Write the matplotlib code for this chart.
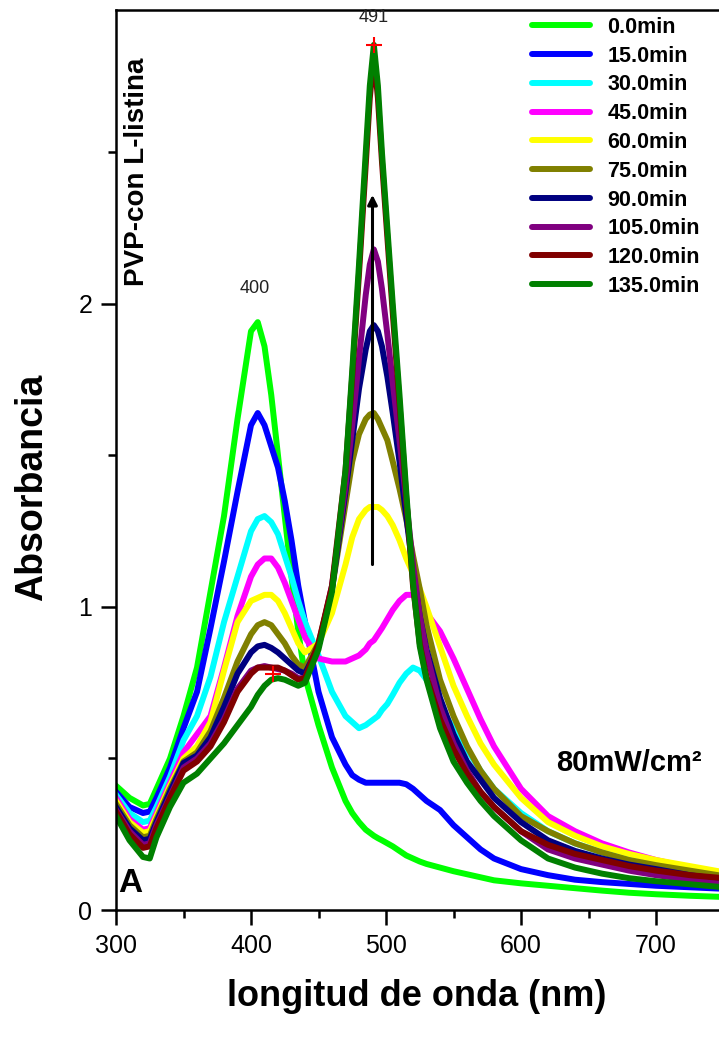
import matplotlib
matplotlib.use('Agg')
import matplotlib.pyplot as plt
from matplotlib.ticker import MultipleLocator

# Wavelength grid (nm) shared by every spectrum
wavelength = [300, 310, 320, 325, 330, 340, 350, 360, 370, 380, 390, 400, 405, 410, 415,
              420, 425, 430, 435, 440, 450, 460, 470, 475, 480, 485, 488, 491, 494, 497,
              501, 505, 510, 515, 520, 525, 530, 540, 550, 560, 570, 580, 600, 620, 640,
              660, 680, 700, 725, 750]

# Absorbance spectra, one list per irradiation time
abs_0 = [0.41, 0.37, 0.345, 0.35, 0.40, 0.50, 0.64, 0.80, 1.05, 1.30, 1.62, 1.91, 1.94, 1.86, 1.70,
         1.50, 1.30, 1.10, 0.92, 0.77, 0.61, 0.47, 0.36, 0.32, 0.29, 0.265, 0.255, 0.245, 0.237, 0.23,
         0.22, 0.21, 0.195, 0.18, 0.17, 0.16, 0.152, 0.14, 0.128, 0.118, 0.108, 0.098, 0.088, 0.080, 0.072,
         0.064, 0.057, 0.052, 0.047, 0.043]
abs_15 = [0.39, 0.34, 0.32, 0.325, 0.37, 0.47, 0.60, 0.72, 0.93, 1.15, 1.38, 1.60, 1.64, 1.60, 1.53,
          1.46, 1.35, 1.22, 1.07, 0.95, 0.72, 0.57, 0.48, 0.445, 0.43, 0.42, 0.42, 0.42, 0.42, 0.42,
          0.42, 0.42, 0.42, 0.415, 0.40, 0.38, 0.36, 0.33, 0.28, 0.24, 0.20, 0.17, 0.135, 0.115, 0.10,
          0.092, 0.086, 0.080, 0.075, 0.070]
abs_30 = [0.38, 0.32, 0.29, 0.295, 0.34, 0.44, 0.56, 0.64, 0.77, 0.95, 1.10, 1.25, 1.29, 1.30, 1.28,
          1.24, 1.17, 1.10, 1.02, 0.95, 0.84, 0.72, 0.64, 0.62, 0.60, 0.61, 0.62, 0.63, 0.64, 0.66,
          0.68, 0.71, 0.75, 0.78, 0.80, 0.79, 0.76, 0.67, 0.60, 0.53, 0.46, 0.40, 0.32, 0.26, 0.22,
          0.19, 0.165, 0.145, 0.125, 0.105]
abs_45 = [0.37, 0.30, 0.265, 0.27, 0.32, 0.42, 0.52, 0.58, 0.64, 0.80, 0.97, 1.10, 1.14, 1.16, 1.16,
          1.13, 1.08, 1.02, 0.96, 0.90, 0.83, 0.82, 0.82, 0.83, 0.84, 0.86, 0.88, 0.89, 0.91, 0.93,
          0.96, 0.99, 1.02, 1.04, 1.04, 1.01, 0.98, 0.92, 0.83, 0.73, 0.63, 0.54, 0.40, 0.31, 0.26,
          0.22, 0.19, 0.165, 0.14, 0.12]
abs_60 = [0.36, 0.29, 0.255, 0.26, 0.31, 0.41, 0.50, 0.54, 0.62, 0.79, 0.95, 1.02, 1.03, 1.04, 1.04,
          1.02, 0.98, 0.93, 0.88, 0.85, 0.88, 0.98, 1.14, 1.23, 1.29, 1.32, 1.33, 1.33, 1.33, 1.32,
          1.30, 1.27, 1.22, 1.16, 1.11, 1.06, 1.00, 0.87, 0.74, 0.64, 0.55, 0.48, 0.37, 0.29, 0.245,
          0.21, 0.185, 0.165, 0.145, 0.125]
abs_75 = [0.35, 0.28, 0.24, 0.245, 0.30, 0.40, 0.49, 0.52, 0.59, 0.70, 0.82, 0.91, 0.94, 0.95, 0.94,
          0.91, 0.88, 0.84, 0.81, 0.80, 0.88, 1.06, 1.34, 1.48, 1.57, 1.62, 1.635, 1.64, 1.62, 1.59,
          1.55, 1.48, 1.39, 1.29, 1.17, 1.06, 0.94, 0.76, 0.64, 0.54, 0.46, 0.40, 0.31, 0.26, 0.22,
          0.19, 0.165, 0.148, 0.13, 0.112]
abs_90 = [0.34, 0.27, 0.23, 0.235, 0.29, 0.39, 0.485, 0.51, 0.57, 0.67, 0.78, 0.85, 0.87, 0.875, 0.865,
          0.85, 0.83, 0.81, 0.79, 0.78, 0.87, 1.06, 1.38, 1.55, 1.72, 1.85, 1.91, 1.93, 1.91, 1.86,
          1.76, 1.64, 1.48, 1.30, 1.12, 0.97, 0.86, 0.70, 0.58, 0.49, 0.43, 0.37, 0.29, 0.23, 0.195,
          0.17, 0.15, 0.135, 0.115, 0.10]
abs_105 = [0.33, 0.26, 0.215, 0.22, 0.28, 0.375, 0.47, 0.50, 0.55, 0.63, 0.73, 0.79, 0.80, 0.805, 0.80,
           0.795, 0.79, 0.78, 0.765, 0.765, 0.87, 1.07, 1.40, 1.60, 1.82, 2.03, 2.13, 2.18, 2.14, 2.05,
           1.90, 1.74, 1.55, 1.35, 1.14, 0.97, 0.85, 0.67, 0.55, 0.46, 0.39, 0.34, 0.26, 0.20, 0.17,
           0.15, 0.13, 0.115, 0.10, 0.085]
abs_120 = [0.325, 0.25, 0.205, 0.21, 0.27, 0.37, 0.46, 0.49, 0.54, 0.62, 0.72, 0.78, 0.80, 0.80, 0.80,
           0.80, 0.79, 0.775, 0.76, 0.765, 0.88, 1.07, 1.45, 1.76, 2.10, 2.46, 2.68, 2.82, 2.68, 2.47,
           2.22, 1.97, 1.67, 1.36, 1.07, 0.88, 0.77, 0.63, 0.53, 0.45, 0.39, 0.34, 0.26, 0.215, 0.185,
           0.165, 0.145, 0.13, 0.115, 0.105]
abs_135 = [0.31, 0.23, 0.175, 0.17, 0.24, 0.34, 0.42, 0.45, 0.50, 0.55, 0.61, 0.67, 0.71, 0.74, 0.76,
           0.765, 0.76, 0.75, 0.74, 0.75, 0.86, 1.05, 1.45, 1.78, 2.13, 2.50, 2.72, 2.855, 2.72, 2.50,
           2.25, 2.00, 1.70, 1.38, 1.08, 0.87, 0.76, 0.60, 0.49, 0.42, 0.36, 0.31, 0.23, 0.17, 0.14,
           0.12, 0.105, 0.095, 0.085, 0.075]

spectra = [abs_0, abs_15, abs_30, abs_45, abs_60, abs_75, abs_90, abs_105, abs_120, abs_135]
times = ['0.0min', '15.0min', '30.0min', '45.0min', '60.0min', '75.0min', '90.0min',
         '105.0min', '120.0min', '135.0min']
colors = ['#00FF00', '#0000FF', '#00FFFF', '#FF00FF', '#FFFF00', '#808000', '#000080',
          '#800080', '#800000', '#008000']

# Band maxima marked on the plot
peak_labels = ['400', '491']
peak_label_x = [403, 491]
peak_label_y = [2.05, 2.945]
cross_x = [491, 416]
cross_y = [2.855, 0.78]
arrow_x = 490
arrow_from = 1.14
arrow_to = 2.36

plt.rcParams['font.family'] = ['Liberation Sans', 'DejaVu Sans']

fig = plt.figure(figsize=(7.19, 10.42), dpi=100)
ax = fig.add_axes([116 / 719, 132 / 1042, 607.5 / 719, 900 / 1042])

for y, c, lab in zip(spectra, colors, times):
    ax.plot(wavelength, y, color=c, lw=4.3, label=lab)

# growth arrow on the 491 nm band
ax.annotate('', xy=(arrow_x, arrow_to), xytext=(arrow_x, arrow_from),
            arrowprops=dict(arrowstyle='-|>', color='black', lw=2.2,
                            mutation_scale=14, shrinkA=0, shrinkB=0))

ax.plot(cross_x, cross_y, ls='none', marker='+', color='red', ms=12, mew=1.5)
for t, x, y in zip(peak_labels, peak_label_x, peak_label_y):
    ax.text(x, y, t, ha='center', va='center', fontsize=13, color='#222222')

ax.set_xlim(300, 750)
ax.set_ylim(0, 2.97)
ax.xaxis.set_major_locator(MultipleLocator(100))
ax.xaxis.set_minor_locator(MultipleLocator(50))
ax.yaxis.set_major_locator(MultipleLocator(1))
ax.yaxis.set_minor_locator(MultipleLocator(0.5))
ax.tick_params(which='major', direction='out', length=11, width=1.8, pad=6, labelsize=18)
ax.tick_params(which='minor', direction='out', length=6, width=1.8)
for side in ['left', 'bottom', 'top']:
    ax.spines[side].set_linewidth(1.8)
ax.spines['right'].set_visible(False)

fig.text(32 / 719, 1 - 487 / 1042, 'Absorbancia', rotation=90, ha='center', va='center',
         fontsize=27, fontweight='bold')
fig.text(417 / 719, 1 - 997 / 1042, 'longitud de onda (nm)', ha='center', va='center',
         fontsize=26, fontweight='bold')

ax.text(0.035, 0.947, 'PVP-con L-listina', transform=ax.transAxes, rotation=90,
        ha='center', va='top', fontsize=20, fontweight='bold')
ax.text(0.844, 0.163, '80mW/cm²', transform=ax.transAxes, ha='center', va='center',
        fontsize=21, fontweight='bold')
ax.text(0.004, 0.03, 'A', transform=ax.transAxes, ha='left', va='center',
        fontsize=24, fontweight='bold')

leg = ax.legend(loc='upper left', bbox_to_anchor=(532 / 719, 1 - 17 / 1042),
                bbox_transform=fig.transFigure, frameon=False, borderpad=0,
                borderaxespad=0, handlelength=2.7, handletextpad=0.8,
                labelspacing=0.36, prop={'weight': 'bold', 'size': 15.5})
for line in leg.get_lines():
    line.set_linewidth(4.3)
    line.set_solid_capstyle('round')

fig.savefig('out.png', dpi=100)
